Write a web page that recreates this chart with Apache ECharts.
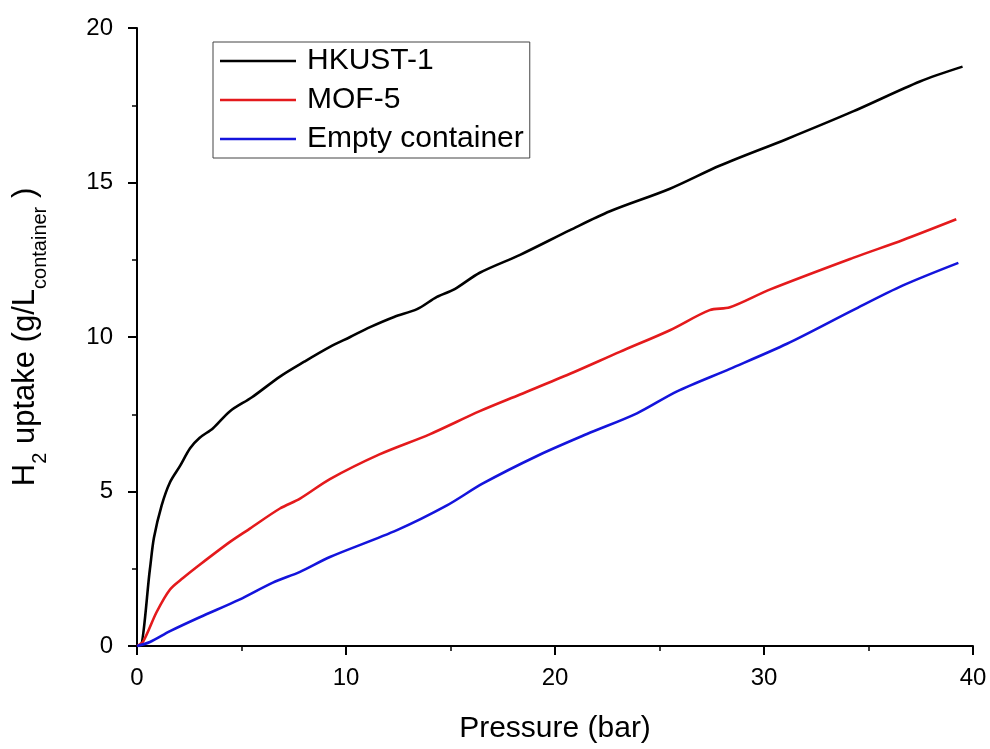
<!DOCTYPE html>
<html>
<head>
<meta charset="utf-8">
<script src="https://cdn.jsdelivr.net/npm/echarts@6/dist/echarts.min.js"></script>
<style>html,body{margin:0;padding:0;background:#fff}#c{width:990px;height:749px}</style>
</head>
<body>
<div id="c"></div>
<script>
const seriesNames = ['HKUST-1', 'MOF-5', 'Empty container'];
const hkustP = [0, 0.14, 0.62, 0.81, 1.18, 1.58, 2.06, 2.54, 3.0, 3.64, 4.45, 5.5, 6.84, 8.0, 9.23, 10.2, 11.15, 12.3, 13.4, 14.35, 15.2, 16.4, 18.33, 20.72, 22.63, 25.5, 27.9, 31.1, 34.26, 37.46, 39.5];
const hkustU = [0, 0, 2.5, 3.5, 4.55, 5.3, 5.83, 6.4, 6.74, 7.05, 7.6, 8.05, 8.72, 9.2, 9.68, 10.0, 10.32, 10.65, 10.9, 11.3, 11.55, 12.08, 12.66, 13.46, 14.07, 14.8, 15.55, 16.41, 17.3, 18.27, 18.75];
const mofP = [0, 0.3, 0.94, 1.58, 2.2, 3.0, 4.45, 5.4, 6.84, 7.8, 9.23, 11.6, 14.0, 16.4, 18.33, 20.72, 23.1, 25.5, 27.4, 28.37, 30.3, 34.26, 36.65, 39.2];
const mofU = [0, 0.15, 1.1, 1.83, 2.2, 2.63, 3.37, 3.8, 4.45, 4.77, 5.4, 6.2, 6.85, 7.6, 8.14, 8.81, 9.52, 10.22, 10.87, 10.96, 11.54, 12.56, 13.14, 13.81];
const emptyP = [0, 0.62, 1.58, 3.0, 4.9, 6.5, 7.8, 9.23, 12.44, 14.83, 16.55, 19.14, 21.53, 23.92, 25.84, 28.37, 31.1, 34.26, 36.65, 39.3];
const emptyU = [0, 0.13, 0.48, 0.93, 1.5, 2.05, 2.4, 2.88, 3.75, 4.55, 5.26, 6.15, 6.86, 7.53, 8.24, 8.97, 9.78, 10.87, 11.67, 12.4];
const xTicks = [0, 10, 20, 30, 40];
const yTicks = [0, 5, 10, 15, 20];
const colors = ['#000000', '#e41a1c', '#1414dc'];

function pairs(xs, ys) { return xs.map((x, i) => [x, ys[i]]); }
const font = 'Liberation Sans, Arial, sans-serif';
const chart = echarts.init(document.getElementById('c'));
const axisCommon = {
  axisLine: { show: true, onZero: false, lineStyle: { color: '#000', width: 2 } },
  axisTick: { show: true, inside: false, length: 9, lineStyle: { color: '#000', width: 2 } },
  minorTick: { show: true, splitNumber: 2, length: 5, lineStyle: { color: '#000', width: 1.5 } },
  splitLine: { show: false },
  axisLabel: { color: '#000', fontSize: 24, fontFamily: font }
};
chart.setOption({
  animation: false,
  backgroundColor: '#fff',
  grid: { left: 137, top: 28, right: 17, bottom: 97, containLabel: false },
  legend: {
    orient: 'vertical', left: 213, top: 42,
    data: seriesNames,
    icon: 'rect',
    itemWidth: 76, itemHeight: 2.5, itemGap: 9,
    borderColor: '#444', borderWidth: 1, borderRadius: 0,
    padding: [4, 6, 4, 7],
    textStyle: { color: '#000', fontSize: 30, fontFamily: font, lineHeight: 30, padding: [0, 0, 0, 6] }
  },
  xAxis: Object.assign({}, axisCommon, {
    type: 'value', min: 0, max: 40, interval: 10,
    name: 'Pressure (bar)', nameLocation: 'middle', nameGap: 68,
    nameTextStyle: { color: '#000', fontSize: 30, fontFamily: font },
    axisLabel: Object.assign({}, axisCommon.axisLabel, { margin: 20, formatter: v => xTicks.includes(v) ? String(v) : '' })
  }),
  yAxis: Object.assign({}, axisCommon, {
    type: 'value', min: 0, max: 20, interval: 5,
    name: '{n|H}{s|2}{n| uptake (g/L}{s|container}{n| )}', nameLocation: 'middle', nameGap: 96, nameRotate: 90,
    nameTextStyle: {
      color: '#000', fontFamily: font,
      rich: {
        n: { fontSize: 31, fontFamily: font, color: '#000', verticalAlign: 'bottom', lineHeight: 34 },
        s: { fontSize: 20, fontFamily: font, color: '#000', verticalAlign: 'bottom', lineHeight: 24, padding: [0, 0, -9, 0] }
      }
    },
    axisLabel: Object.assign({}, axisCommon.axisLabel, { margin: 24, formatter: v => yTicks.includes(v) ? String(v) : '' })
  }),
  series: [
    { name: seriesNames[0], type: 'line', data: pairs(hkustP, hkustU), symbol: 'none', smooth: 0.3, lineStyle: { color: colors[0], width: 2.6 }, itemStyle: { color: colors[0] } },
    { name: seriesNames[1], type: 'line', data: pairs(mofP, mofU), symbol: 'none', smooth: 0.3, lineStyle: { color: colors[1], width: 2.6 }, itemStyle: { color: colors[1] } },
    { name: seriesNames[2], type: 'line', data: pairs(emptyP, emptyU), symbol: 'none', smooth: 0.3, lineStyle: { color: colors[2], width: 2.6 }, itemStyle: { color: colors[2] } }
  ]
});
</script>
</body>
</html>
